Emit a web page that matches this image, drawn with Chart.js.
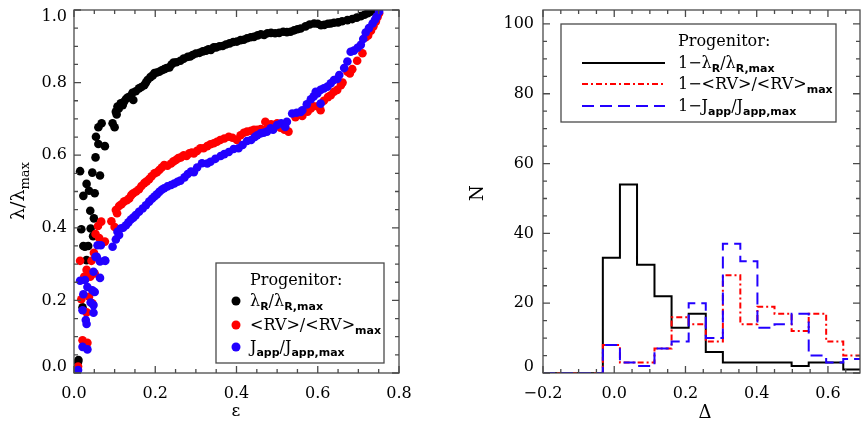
<!DOCTYPE html>
<html>
<head>
<meta charset="utf-8">
<script src="https://cdn.jsdelivr.net/npm/chart.js@4/dist/chart.umd.min.js"></script>
<style>
html, body { margin: 0; padding: 0; background: #fff; }
#wrap { position: relative; width: 861px; height: 423px; }
.panel { position: absolute; top: 0; height: 423px; }
</style>
</head>
<body>
<div id="wrap">
  <div class="panel" style="left:0;width:430px"><canvas id="leftChart"></canvas></div>
  <div class="panel" style="left:430px;width:431px"><canvas id="rightChart"></canvas></div>
</div>
<script>
// Tick labels
const epsTicks = [0, 0.2, 0.4, 0.6, 0.8];
const lamTicks = [0, 0.2, 0.4, 0.6, 0.8, 1.0];
const deltaTicks = [-0.2, 0, 0.2, 0.4, 0.6];
const nTicks = [0, 20, 40, 60, 80, 100];

// Left panel: ellipticity vs normalised spin measures
const blackEps = [0.010,0.011,0.015,0.018,0.021,0.023,0.023,0.027,0.031,0.031,0.035,0.037,0.040,0.041,0.045,0.047,0.049,0.051,0.053,0.054,0.060,0.060,0.064,0.068,0.076,0.095,0.100,
  0.103,0.105,0.107,0.110,0.115,0.120,0.123,0.128,0.132,0.138,0.144,0.146,0.152,0.160,0.166,0.173,0.177,0.181,0.188,0.194,0.198,0.204,0.210,0.216,0.222,0.228,0.235,0.240,0.245,0.252,
  0.262,0.270,0.280,0.286,0.292,0.300,0.309,0.317,0.325,0.331,0.337,0.344,0.350,0.358,0.366,0.374,0.383,0.392,0.401,0.410,0.418,0.426,0.435,0.443,0.452,0.460,0.468,0.476,0.485,0.495,
  0.505,0.515,0.524,0.533,0.542,0.550,0.558,0.570,0.580,0.591,0.600,0.608,0.616,0.625,0.632,0.640,0.650,0.660,0.673,0.685,0.696,0.706,0.715,0.723,0.730,0.735];
const blackLam = [0.030,0.036,0.556,0.396,0.181,0.488,0.350,0.348,0.311,0.521,0.350,0.502,0.447,0.398,0.552,0.377,0.426,0.495,0.594,0.651,0.631,0.677,0.544,0.688,0.625,0.688,0.677,
  0.720,0.712,0.734,0.728,0.743,0.738,0.747,0.755,0.759,0.762,0.772,0.752,0.776,0.784,0.788,0.793,0.800,0.807,0.815,0.820,0.826,0.828,0.830,0.834,0.837,0.840,0.842,0.850,0.855,0.856,
  0.860,0.866,0.871,0.872,0.876,0.880,0.882,0.886,0.888,0.892,0.890,0.897,0.897,0.900,0.901,0.905,0.908,0.912,0.913,0.917,0.918,0.922,0.925,0.926,0.930,0.933,0.931,0.936,0.937,0.936,
  0.937,0.940,0.939,0.940,0.944,0.947,0.949,0.955,0.960,0.963,0.962,0.958,0.959,0.962,0.963,0.965,0.966,0.969,0.972,0.975,0.979,0.983,0.987,0.991,0.995,1.000];

const redEps = [0.010,0.015,0.018,0.021,0.025,0.031,0.031,0.033,0.033,0.037,0.040,0.043,0.045,0.049,0.051,0.053,0.059,0.062,0.067,0.076,0.092,0.100,
  0.103,0.106,0.111,0.117,0.123,0.130,0.136,0.141,0.146,0.153,0.160,0.166,0.173,0.179,0.185,0.191,0.198,0.204,0.210,0.216,
  0.222,0.230,0.239,0.245,0.251,0.257,0.263,0.270,0.277,0.284,0.290,0.295,0.303,0.311,0.319,0.328,0.336,0.344,0.352,0.360,
  0.370,0.381,0.390,0.401,0.410,0.418,0.426,0.436,0.443,0.451,0.460,0.471,0.478,0.485,0.491,0.500,0.508,0.518,0.528,0.545,
  0.558,0.562,0.575,0.583,0.590,0.600,0.607,0.615,0.625,0.632,0.640,0.648,0.657,0.661,0.673,0.679,0.685,0.697,0.710,0.718,
  0.724,0.731,0.737,0.743,0.747,0.751];
const redRV = [0.018,0.309,0.203,0.090,0.265,0.284,0.167,0.083,0.265,0.210,0.265,0.309,0.192,0.331,0.274,0.383,0.405,0.372,0.417,0.362,0.418,0.402,
  0.449,0.440,0.460,0.465,0.472,0.476,0.481,0.490,0.495,0.500,0.506,0.515,0.523,0.528,0.534,0.542,0.550,0.553,0.559,0.566,
  0.573,0.571,0.577,0.583,0.587,0.592,0.594,0.600,0.598,0.605,0.607,0.605,0.612,0.619,0.619,0.625,0.630,0.633,0.637,0.642,
  0.646,0.651,0.648,0.642,0.655,0.662,0.665,0.667,0.670,0.670,0.672,0.692,0.680,0.685,0.683,0.688,0.676,0.670,0.665,0.705,
  0.711,0.708,0.720,0.729,0.735,0.735,0.724,0.750,0.760,0.765,0.775,0.780,0.793,0.800,0.830,0.825,0.837,0.860,0.881,0.925,
  0.930,0.943,0.955,0.968,0.980,0.991];

const blueEps = [0.010,0.015,0.021,0.021,0.023,0.029,0.031,0.033,0.033,0.027,0.041,0.045,0.048,0.048,0.048,0.051,0.053,0.056,0.058,0.064,0.064,0.066,0.076,0.077,0.095,
  0.103,0.107,0.111,0.115,0.121,0.128,0.134,0.140,0.146,0.152,0.160,0.169,0.177,0.185,0.192,0.198,0.204,0.210,0.216,0.222,
  0.230,0.239,0.247,0.255,0.262,0.272,0.280,0.288,0.295,0.303,0.315,0.328,0.336,0.348,0.361,0.370,0.381,0.393,0.405,0.415,
  0.426,0.436,0.445,0.451,0.459,0.467,0.475,0.484,0.490,0.500,0.510,0.520,0.524,0.537,0.548,0.558,0.562,0.573,0.583,0.590,
  0.595,0.599,0.607,0.607,0.615,0.624,0.632,0.640,0.648,0.653,0.665,0.673,0.681,0.689,0.698,0.706,0.712,0.718,0.726,0.735,
  0.741,0.745,0.751];
const blueJ = [0.008,0.254,0.173,0.072,0.217,0.146,0.135,0.237,0.065,0.256,0.194,0.228,0.187,0.166,0.279,0.223,0.320,0.320,0.352,0.307,0.262,0.352,0.310,0.309,0.348,
  0.368,0.389,0.380,0.398,0.400,0.407,0.415,0.423,0.428,0.435,0.444,0.453,0.462,0.472,0.480,0.486,0.492,0.499,0.505,0.509,
  0.514,0.518,0.522,0.527,0.530,0.539,0.548,0.555,0.553,0.566,0.578,0.577,0.582,0.590,0.598,0.603,0.609,0.617,0.619,0.628,
  0.639,0.642,0.650,0.655,0.660,0.662,0.665,0.674,0.670,0.683,0.688,0.678,0.692,0.715,0.717,0.719,0.724,0.740,0.754,0.762,
  0.775,0.770,0.742,0.780,0.784,0.789,0.798,0.807,0.810,0.821,0.840,0.858,0.885,0.888,0.896,0.904,0.920,0.938,0.950,0.963,
  0.973,0.982,0.995];

// Right panel: histogram of Delta, bin edges and counts per bin
const binEdges = [-0.2, -0.032, 0.016, 0.064, 0.113, 0.161, 0.209, 0.257, 0.305, 0.354, 0.402, 0.450, 0.498, 0.546, 0.595, 0.643, 0.691];
const countLambda = [0, 33, 54, 31, 22, 13, 17, 6, 3, 3, 3, 3, 2, 3, 3, 1];
const countRV = [0, 8, 3, 3, 7, 16, 14, 9, 28, 14, 19, 17, 12, 17, 9, 5];
const countJ = [0, 8, 3, 2, 7, 9, 20, 10, 37, 32, 13, 14, 17, 5, 3, 4];

const SERIF = '"DejaVu Serif", "Liberation Serif", serif';
const SANS = '"DejaVu Sans", sans-serif';
const AXIS_COLOR = '#4a4a4a';
const RED = '#ff0000';
const BLUE = '#2200ff';

function toPoints(xs, ys) {
    const n = Math.min(xs.length, ys.length);
    const pts = [];
    for (let i = 0; i < n; i++) pts.push({ x: xs[i], y: ys[i] });
    return pts;
}

function toSteps(edges, counts) {
    return edges.map((e, i) => ({ x: e, y: counts[Math.min(i, counts.length - 1)] }));
}

// text with subscripts: parts are strings or {sub: '...'}
function drawRich(ctx, parts, x, y, size, subFont, draw = true) {
    let cx = x;
    ctx.textBaseline = 'middle';
    ctx.textAlign = 'left';
    parts.forEach(p => {
        const isSub = typeof p !== 'string';
        const t = isSub ? p.sub : p;
        ctx.font = isSub ? subFont : `${size}px ${SERIF}`;
        if (draw) ctx.fillText(t, cx, isSub ? y + size * 0.34 : y);
        cx += ctx.measureText(t).width;
    });
    return cx - x;
}

// IDL-like box with inward major/minor ticks on all four sides,
// y labels kept inside the axis range like IDL does
function framePlugin(xMinor, yMinor, yFormat, yPad) {
    return {
        id: 'frame',
        afterDraw(chart) {
            const ctx = chart.ctx;
            const a = chart.chartArea;
            const xs = chart.scales.x, ys = chart.scales.y;
            const majX = xs.ticks.map(t => t.value);
            const majY = ys.ticks.map(t => t.value);
            const isMajor = (list, v) => list.some(m => Math.abs(m - v) < 1e-6);
            ctx.save();
            ctx.strokeStyle = AXIS_COLOR;
            ctx.lineWidth = 1.3;
            ctx.strokeRect(a.left, a.top, a.right - a.left, a.bottom - a.top);
            ctx.beginPath();
            for (let k = Math.ceil(xs.min / xMinor - 1e-6); k * xMinor <= xs.max + 1e-9; k++) {
                const v = k * xMinor;
                const px = xs.getPixelForValue(v);
                const len = isMajor(majX, v) ? 7 : 4;
                ctx.moveTo(px, a.bottom); ctx.lineTo(px, a.bottom - len);
                ctx.moveTo(px, a.top); ctx.lineTo(px, a.top + len);
            }
            for (let k = Math.ceil(ys.min / yMinor - 1e-6); k * yMinor <= ys.max + 1e-9; k++) {
                const v = k * yMinor;
                const py = ys.getPixelForValue(v);
                const len = isMajor(majY, v) ? 7 : 4;
                ctx.moveTo(a.left, py); ctx.lineTo(a.left + len, py);
                ctx.moveTo(a.right, py); ctx.lineTo(a.right - len, py);
            }
            ctx.stroke();

            ctx.fillStyle = '#000';
            ctx.font = `16px ${SERIF}`;
            ctx.textAlign = 'right';
            ctx.textBaseline = 'middle';
            majY.forEach(v => {
                const py = Math.min(Math.max(ys.getPixelForValue(v), a.top + 7), a.bottom - 6);
                ctx.fillText(yFormat(v), a.left - yPad, py);
            });
            ctx.restore();
        }
    };
}

function tickFont() {
    return { family: SERIF, size: 16 };
}

// ---------- left panel ----------
const leftDecor = {
    id: 'leftDecor',
    afterDraw(chart) {
        const ctx = chart.ctx;
        ctx.save();
        ctx.fillStyle = '#000';
        // x title
        ctx.font = `17px ${SERIF}`;
        ctx.textAlign = 'center';
        ctx.textBaseline = 'middle';
        ctx.fillText('ε', 236, 412);
        // y title, rotated
        const titleParts = ['λ/λ', { sub: 'max' }];
        const subF = `13px ${SERIF}`;
        const w = drawRich(ctx, titleParts, 0, 0, 19, subF, false);
        ctx.translate(22, 191);
        ctx.rotate(-Math.PI / 2);
        drawRich(ctx, titleParts, -w / 2, -3, 19, subF);
        ctx.restore();

        // legend
        ctx.save();
        ctx.fillStyle = '#fff';
        ctx.fillRect(216, 263, 168, 100);
        ctx.strokeStyle = AXIS_COLOR;
        ctx.lineWidth = 1.3;
        ctx.strokeRect(216, 263, 168, 100);
        ctx.fillStyle = '#000';
        ctx.font = `16px ${SERIF}`;
        ctx.textAlign = 'left';
        ctx.textBaseline = 'middle';
        ctx.fillText('Progenitor:', 250, 281);
        const sf = `bold 11px ${SANS}`;
        const rows = [
            { c: '#000', y: 301, parts: ['λ', { sub: 'R' }, '/λ', { sub: 'R,max' }] },
            { c: RED, y: 325, parts: ['<RV>/<RV>', { sub: 'max' }] },
            { c: BLUE, y: 347, parts: ['J', { sub: 'app' }, '/J', { sub: 'app,max' }] }
        ];
        rows.forEach(r => {
            ctx.fillStyle = r.c;
            ctx.beginPath();
            ctx.arc(236, r.y, 4.5, 0, Math.PI * 2);
            ctx.fill();
            ctx.fillStyle = '#000';
            drawRich(ctx, r.parts, 250, r.y + 1, 16, sf);
        });
        ctx.restore();
    }
};

new Chart(document.getElementById('leftChart'), {
    type: 'scatter',
    data: {
        datasets: [
            { data: toPoints(blackEps, blackLam), backgroundColor: '#000', order: 2 },
            { data: toPoints(redEps, redRV), backgroundColor: RED, order: 1 },
            { data: toPoints(blueEps, blueJ), backgroundColor: BLUE, order: 0 }
        ]
    },
    options: {
        animation: false,
        responsive: true,
        maintainAspectRatio: false,
        events: [],
        layout: { padding: { left: 0, right: 31, top: 10, bottom: 0 } },
        elements: { point: { radius: 4.3, borderWidth: 0 } },
        plugins: { legend: { display: false }, tooltip: { enabled: false } },
        scales: {
            x: {
                type: 'linear', min: 0, max: 0.8,
                afterBuildTicks: s => { s.ticks = epsTicks.map(v => ({ value: v })); },
                afterFit: s => { s.height = 50; },
                grid: { display: false, drawTicks: false },
                border: { display: false },
                ticks: { font: tickFont(), color: '#000', padding: 11, maxRotation: 0, autoSkip: false,
                         callback: v => v.toFixed(1) }
            },
            y: {
                type: 'linear', min: 0, max: 1,
                afterBuildTicks: s => { s.ticks = lamTicks.map(v => ({ value: v })); },
                afterFit: s => { s.width = 74; },
                grid: { display: false, drawTicks: false },
                border: { display: false },
                ticks: { display: false }
            }
        }
    },
    plugins: [framePlugin(0.05, 0.05, v => v.toFixed(1), 7), leftDecor]
});

// ---------- right panel ----------
const histStyles = [
    { color: '#000', dash: [] },
    { color: RED, dash: [6, 3, 2, 3] },
    { color: BLUE, dash: [12, 6] }
];

const rightDecor = {
    id: 'rightDecor',
    afterDraw(chart) {
        const ctx = chart.ctx;
        ctx.save();
        ctx.fillStyle = '#000';
        ctx.font = `18px ${SERIF}`;
        ctx.textAlign = 'center';
        ctx.textBaseline = 'middle';
        ctx.fillText('Δ', 275, 413);
        ctx.translate(48, 193);
        ctx.rotate(-Math.PI / 2);
        ctx.fillText('N', 0, 0);
        ctx.restore();

        // legend
        ctx.save();
        ctx.fillStyle = '#fff';
        ctx.fillRect(131, 24, 275, 98);
        ctx.strokeStyle = AXIS_COLOR;
        ctx.lineWidth = 1.3;
        ctx.strokeRect(131, 24, 275, 98);
        ctx.fillStyle = '#000';
        ctx.font = `16px ${SERIF}`;
        ctx.textAlign = 'left';
        ctx.textBaseline = 'middle';
        ctx.fillText('Progenitor:', 248, 42);
        const sf = `bold 11px ${SANS}`;
        const rows = [
            { y: 63, parts: ['1−λ', { sub: 'R' }, '/λ', { sub: 'R,max' }] },
            { y: 84, parts: ['1−<RV>/<RV>', { sub: 'max' }] },
            { y: 106, parts: ['1−J', { sub: 'app' }, '/J', { sub: 'app,max' }] }
        ];
        rows.forEach((r, i) => {
            const st = histStyles[i];
            ctx.strokeStyle = st.color;
            ctx.lineWidth = 2;
            ctx.setLineDash(st.dash);
            ctx.beginPath();
            ctx.moveTo(152, r.y);
            ctx.lineTo(235, r.y);
            ctx.stroke();
            ctx.setLineDash([]);
            ctx.fillStyle = '#000';
            drawRich(ctx, r.parts, 248, r.y + 1, 16, sf);
        });
        ctx.restore();
    }
};

const histSeries = [countLambda, countRV, countJ];

new Chart(document.getElementById('rightChart'), {
    type: 'line',
    data: {
        datasets: histSeries.map((counts, i) => ({
            data: toSteps(binEdges, counts),
            stepped: true,
            borderColor: histStyles[i].color,
            borderDash: histStyles[i].dash,
            borderWidth: 2,
            pointRadius: 0,
            fill: false,
            order: 2 - i
        }))
    },
    options: {
        animation: false,
        responsive: true,
        maintainAspectRatio: false,
        events: [],
        layout: { padding: { left: 0, right: 1, top: 10, bottom: 0 } },
        plugins: { legend: { display: false }, tooltip: { enabled: false } },
        scales: {
            x: {
                type: 'linear', min: -0.2, max: 0.69,
                afterBuildTicks: s => { s.ticks = deltaTicks.map(v => ({ value: v })); },
                afterFit: s => { s.height = 50; },
                grid: { display: false, drawTicks: false },
                border: { display: false },
                ticks: { font: tickFont(), color: '#000', padding: 11, maxRotation: 0, autoSkip: false,
                         callback: v => v.toFixed(1).replace('-', '−') }
            },
            y: {
                type: 'linear', min: 0, max: 104,
                afterBuildTicks: s => { s.ticks = nTicks.map(v => ({ value: v })); },
                afterFit: s => { s.width = 113; },
                grid: { display: false, drawTicks: false },
                border: { display: false },
                ticks: { display: false }
            }
        }
    },
    plugins: [framePlugin(0.05, 5, v => String(v), 9), rightDecor]
});
</script>
</body>
</html>
